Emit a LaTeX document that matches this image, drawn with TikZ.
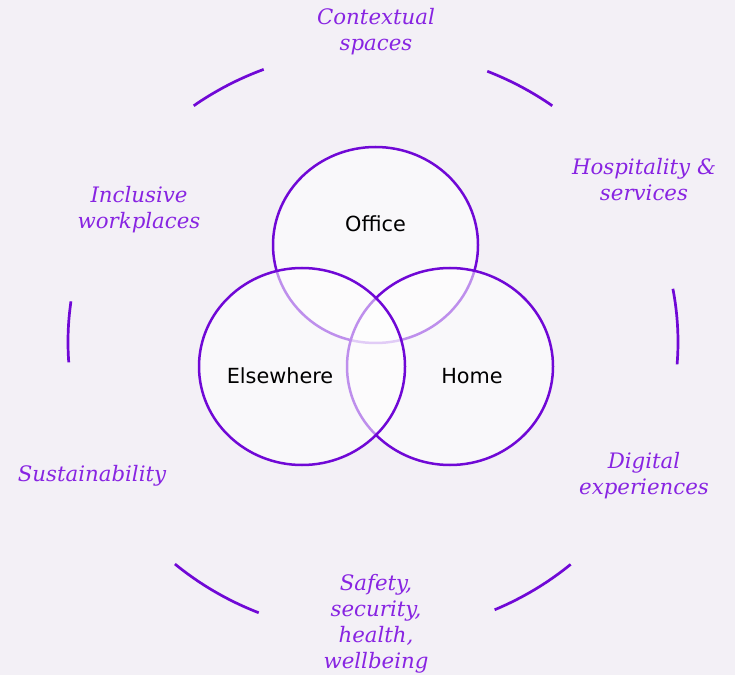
\documentclass[tikz,border=0pt]{standalone}
\usepackage{fontspec}
\setmainfont{DejaVu Serif}
\newfontfamily\vennsans{DejaVu Sans}
\usetikzlibrary{shapes.geometric}
\definecolor{bgc}{RGB}{243,240,246}
\definecolor{ringc}{RGB}{112,8,214}
\definecolor{labc}{RGB}{136,36,226}
\begin{document}
\begin{tikzpicture}[x=1pt,y=1pt,
  venn/.style={ellipse, draw=ringc, line width=2.5pt, fill=white, fill opacity=0.55, draw opacity=1, inner sep=0pt, outer sep=0pt},
  ring/.style={draw=ringc, line width=2.7pt},
  lab/.style={text=labc, font=\fontsize{21.3}{26}\selectfont\itshape, align=center, inner sep=0pt},
  core/.style={font=\vennsans\fontsize{20.8}{24}\selectfont, text=black, inner sep=0pt}]
\fill[bgc] (0,0) rectangle (735,675);
\useasboundingbox (0,0) rectangle (735,675);
% outer broken ring
\coordinate (oc) at (373,333);
\foreach \a/\b in {111/126, 54/68, 172/184, -4.4/10.5, 229.5/248, 293.5/310.4}{
  \draw[ring] (oc) ++(\a:305 and 292) arc[start angle=\a, end angle=\b, x radius=305, y radius=292];
}
% venn circles
\node[venn, minimum width=205pt, minimum height=196pt] (office) at (375.5,430) {};
\node[venn, minimum width=206pt, minimum height=197pt] (homec) at (450,308.5) {};
\node[venn, minimum width=206pt, minimum height=197pt] (elsec) at (302,308.5) {};
\node[core] (tOffice) at (375.5,451) {Office};
\node[core] (tElse) at (280,299) {Elsewhere};
\node[core] (tHome) at (472,299) {Home};
% labels
\node[lab] (l1) at (376,643) {Contextual\\spaces};
\node[lab] (l2) at (644,495) {Hospitality \&\\services};
\node[lab] (l3) at (139,465) {Inclusive\\workplaces};
\node[lab] (l4) at (92,199) {Sustainability};
\node[lab] (l5) at (644,199) {Digital\\experiences};
\node[lab] (l6) at (376,51.5) {Safety,\\security,\\health,\\wellbeing};
\end{tikzpicture}
\end{document}
